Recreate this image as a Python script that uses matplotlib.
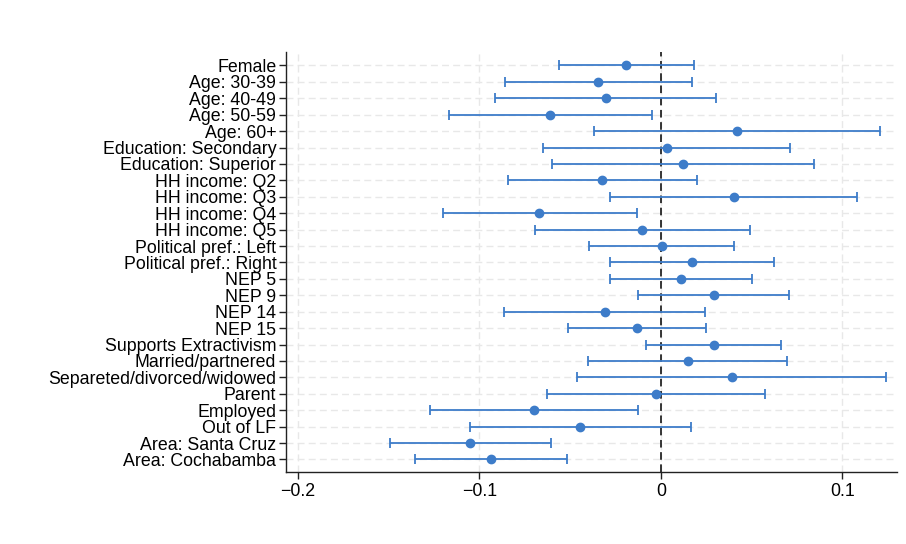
import matplotlib
matplotlib.use("Agg")
import matplotlib.pyplot as plt
import numpy as np

plt.rcParams['font.family'] = ['Liberation Sans', 'DejaVu Sans']

labels = [
    "Female", "Age: 30-39", "Age: 40-49", "Age: 50-59", "Age: 60+",
    "Education: Secondary", "Education: Superior",
    "HH income: Q2", "HH income: Q3", "HH income: Q4", "HH income: Q5",
    "Political pref.: Left", "Political pref.: Right",
    "NEP 5", "NEP 9", "NEP 14", "NEP 15",
    "Supports Extractivism", "Married/partnered",
    "Separeted/divorced/widowed", "Parent", "Employed", "Out of LF",
    "Area: Santa Cruz", "Area: Cochabamba",
]

estimates = [
    -0.0190, -0.0346, -0.0305, -0.0610, 0.0418,
    0.0033, 0.0120,
    -0.0325, 0.0401, -0.0669, -0.0102,
    0.0004, 0.0172,
    0.0111, 0.0290, -0.0309, -0.0131,
    0.0290, 0.0148,
    0.0392, -0.0028, -0.0699, -0.0447,
    -0.1050, -0.0937,
]

ci_low = [
    -0.0562, -0.0858, -0.0915, -0.1170, -0.0366,
    -0.0647, -0.0601,
    -0.0845, -0.0279, -0.1203, -0.0695,
    -0.0397, -0.0281,
    -0.0279, -0.0124, -0.0863, -0.0512,
    -0.0081, -0.0399,
    -0.0460, -0.0627, -0.1270, -0.1054,
    -0.1495, -0.1355,
]

ci_high = [
    0.0183, 0.0170, 0.0303, -0.0048, 0.1205,
    0.0710, 0.0845,
    0.0196, 0.1078, -0.0133, 0.0490,
    0.0405, 0.0625,
    0.0501, 0.0706, 0.0244, 0.0251,
    0.0662, 0.0695,
    0.1240, 0.0571, -0.0129, 0.0163,
    -0.0603, -0.0519,
]

x_ticks = [-0.2, -0.1, 0, 0.1]
x_tick_labels = ["\u22120.2", "\u22120.1", "0", "0.1"]

color = "#3d7cc9"

fig = plt.figure(figsize=(9.06, 5.44), dpi=100)
ax = fig.add_axes([0.3157, 0.1324, 0.6743, 0.772])

est = np.array(estimates)
lo = np.array(ci_low)
hi = np.array(ci_high)
ypos = np.arange(len(labels))

ax.errorbar(est, ypos, xerr=[est - lo, hi - est], fmt='o', color=color,
            ecolor=color, elinewidth=1.3, capsize=3.5, capthick=1.3,
            markersize=6, zorder=3)

ax.axvline(0, color='black', linestyle=(0, (5, 3)), linewidth=1.1, zorder=2)

ax.set_xlim(-0.2065, 0.130)
ax.set_ylim(len(labels) - 1 + 0.76, -0.82)

ax.set_yticks(ypos)
ax.set_yticklabels(labels, fontsize=12.8)
ax.set_xticks(x_ticks)
ax.set_xticklabels(x_tick_labels, fontsize=12.8)

ax.grid(True, color='#e8e8e8', linestyle=(0, (5, 3)), linewidth=1.0, zorder=0)
ax.set_axisbelow(True)

for side in ['top', 'right']:
    ax.spines[side].set_visible(False)
for side in ['left', 'bottom']:
    ax.spines[side].set_linewidth(1.0)
    ax.spines[side].set_color('#222222')

ax.tick_params(axis='both', length=5, width=1.0, colors='#222222',
               labelcolor='black')
ax.tick_params(axis='y', pad=2)
ax.tick_params(axis='x', pad=3)

fig.savefig("out.png", dpi=100)
